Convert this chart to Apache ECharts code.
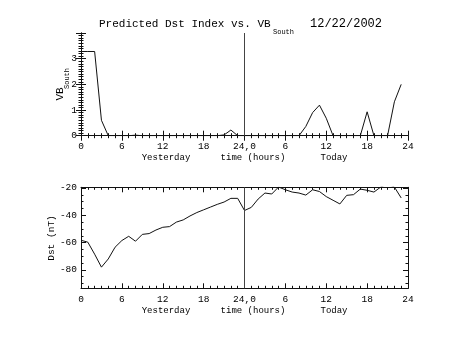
<!DOCTYPE html>
<html>
<head>
<meta charset="utf-8">
<script src="https://cdn.jsdelivr.net/npm/echarts@6/dist/echarts.min.js"></script>
<style>html,body{margin:0;padding:0;background:#fff}#c{width:453px;height:340px}</style>
</head>
<body>
<div id="c"></div>
<script>
// ---- data ----
const hours = [0,1,2,3,4,5,6,7,8,9,10,11,12,13,14,15,16,17,18,19,20,21,22,23,
               24,25,26,27,28,29,30,31,32,33,34,35,36,37,38,39,40,41,42,43,44,45,46,47];
const vbSouth = [3.28,3.28,3.28,0.6,0,0,0,0,0.02,0,0,0,0,0,0,0,0,0,0,0,0,0.03,0.22,0,
                 0,0,0,0,0,0,0,0,0,0.36,0.9,1.19,0.68,0,0,0,0,0,0.93,0,0,0,1.32,2.0];
const dst = [-58.3,-59.7,-68.5,-78,-72,-63.4,-58.5,-55.4,-59,-54,
             -53.4,-50.8,-48.8,-48.3,-45,-43.4,-40.5,-38,-36,-34,
             -32,-30.3,-27.6,-27.6,-36.5,-34.2,-28.1,-23.7,-24.4,-19.3,
             -21.3,-23,-23.7,-25.2,-21.3,-22.6,-26.3,-29,-31.7,-25.4,
             -24.9,-20.8,-21.7,-23,-19.3,-17,-19.3,-27.3];
const xTickLabels = ['0','6','12','18','24,0','6','12','18','24'];
const vbTickLabels = ['0','1','2','3',''];
const dstMajorTicks = [-80,-60,-40,-20];
const dstMinorTicks = [-90,-85,-80,-75,-70,-65,-60,-55,-50,-45,-40,-35,-30,-25,-20];

const FONT = '"Liberation Mono", monospace';
const INK = '#111';

function xAxisDef(grid, pos, showLabel) {
  return {
    type: 'value', gridIndex: grid, position: pos, min: 0, max: 48, interval: 6,
    axisLine: { show: true, lineStyle: { color: INK, width: 1 } },
    axisTick: { show: true, inside: true, length: 5, lineStyle: { color: INK } },
    minorTick: { show: true, splitNumber: 6, length: 2.5, lineStyle: { color: INK } },
    splitLine: { show: false },
    axisLabel: {
      show: showLabel, margin: 6, color: '#000', fontFamily: FONT, fontSize: 9.5,
      formatter: v => xTickLabels[Math.round(v / 6)]
    }
  };
}

const chart = echarts.init(document.getElementById('c'), null, { renderer: 'canvas' });
const option = {
  animation: false,
  backgroundColor: '#fff',
  grid: [
    { left: 81, right: 45, top: 33, bottom: 204.3, show: false },
    { left: 81, right: 45, top: 187.3, bottom: 51.7, show: false }
  ],
  xAxis: [
    xAxisDef(0, 'bottom', true),
    xAxisDef(0, 'top', false),
    xAxisDef(1, 'bottom', true),
    xAxisDef(1, 'top', false)
  ],
  yAxis: [
    {
      type: 'value', gridIndex: 0, position: 'left', min: 0, max: 4, interval: 1,
      axisLine: { show: true, lineStyle: { color: INK } },
      axisTick: { show: true, inside: true, length: 5, lineStyle: { color: INK } },
      minorTick: { show: true, splitNumber: 10, length: 2.5, lineStyle: { color: INK } },
      splitLine: { show: false },
      axisLabel: { margin: 4, color: '#000', fontFamily: FONT, fontSize: 9.5,
        formatter: v => vbTickLabels[Math.round(v)] }
    },
    {
      type: 'value', gridIndex: 0, position: 'right', min: 0, max: 4, interval: 1,
      axisLine: { show: true, lineStyle: { color: INK } },
      axisTick: { show: true, inside: true, length: 5, lineStyle: { color: INK } },
      minorTick: { show: true, splitNumber: 10, length: 2.5, lineStyle: { color: INK } },
      splitLine: { show: false },
      axisLabel: { show: false }
    },
    {
      type: 'value', gridIndex: 1, position: 'left', min: -93.5, max: -19.5,
      axisLine: { show: true, lineStyle: { color: INK } },
      axisTick: { show: true, inside: true, length: 5, customValues: dstMajorTicks, lineStyle: { color: INK } },
      splitLine: { show: false },
      axisLabel: { margin: 4, color: '#000', fontFamily: FONT, fontSize: 9.5, customValues: dstMajorTicks }
    },
    {
      type: 'value', gridIndex: 1, position: 'left', min: -93.5, max: -19.5,
      axisLine: { show: false },
      axisTick: { show: true, inside: true, length: 2.5, customValues: dstMinorTicks, lineStyle: { color: INK } },
      splitLine: { show: false },
      axisLabel: { show: false }
    },
    {
      type: 'value', gridIndex: 1, position: 'right', min: -93.5, max: -19.5,
      axisLine: { show: true, lineStyle: { color: INK } },
      axisTick: { show: true, inside: true, length: 5, customValues: dstMajorTicks, lineStyle: { color: INK } },
      splitLine: { show: false },
      axisLabel: { show: false }
    },
    {
      type: 'value', gridIndex: 1, position: 'right', min: -93.5, max: -19.5,
      axisLine: { show: false },
      axisTick: { show: true, inside: true, length: 2.5, customValues: dstMinorTicks, lineStyle: { color: INK } },
      splitLine: { show: false },
      axisLabel: { show: false }
    }
  ],
  series: [
    {
      type: 'line', xAxisIndex: 0, yAxisIndex: 0,
      data: hours.map((h, i) => [h, vbSouth[i]]),
      showSymbol: false, symbol: 'none', clip: true,
      lineStyle: { color: INK, width: 1 },
      markLine: { silent: true, symbol: 'none', label: { show: false },
        lineStyle: { color: '#444', type: 'solid', width: 1 }, data: [{ xAxis: 24 }] }
    },
    {
      type: 'line', xAxisIndex: 2, yAxisIndex: 2,
      data: hours.map((h, i) => [h, dst[i]]),
      showSymbol: false, symbol: 'none', clip: true,
      lineStyle: { color: INK, width: 1 },
      markLine: { silent: true, symbol: 'none', label: { show: false },
        lineStyle: { color: '#444', type: 'solid', width: 1 }, data: [{ xAxis: 24 }] }
    }
  ],
  graphic: [
    { type: 'text', x: 99, y: 24, style: { text: 'Predicted Dst Index vs. VB', font: '11px ' + FONT, fill: '#000', align: 'left', verticalAlign: 'middle' } },
    { type: 'text', x: 273, y: 32, style: { text: 'South', font: '7px ' + FONT, fill: '#000', align: 'left', verticalAlign: 'middle' } },
    { type: 'text', x: 346, y: 24, style: { text: '12/22/2002', font: '12px ' + FONT, fill: '#000', align: 'center', verticalAlign: 'middle' } },

    { type: 'text', x: 166, y: 157.5, style: { text: 'Yesterday', font: '9px ' + FONT, fill: '#000', align: 'center', verticalAlign: 'middle' } },
    { type: 'text', x: 253, y: 157.5, style: { text: 'time (hours)', font: '9px ' + FONT, fill: '#000', align: 'center', verticalAlign: 'middle' } },
    { type: 'text', x: 334, y: 157.5, style: { text: 'Today', font: '9px ' + FONT, fill: '#000', align: 'center', verticalAlign: 'middle' } },

    { type: 'text', x: 166, y: 311, style: { text: 'Yesterday', font: '9px ' + FONT, fill: '#000', align: 'center', verticalAlign: 'middle' } },
    { type: 'text', x: 253, y: 311, style: { text: 'time (hours)', font: '9px ' + FONT, fill: '#000', align: 'center', verticalAlign: 'middle' } },
    { type: 'text', x: 334, y: 311, style: { text: 'Today', font: '9px ' + FONT, fill: '#000', align: 'center', verticalAlign: 'middle' } },

    { type: 'text', x: 60.5, y: 94, rotation: Math.PI / 2, style: { text: 'VB', font: '11px ' + FONT, fill: '#000', align: 'center', verticalAlign: 'middle' } },
    { type: 'text', x: 67.5, y: 78.5, rotation: Math.PI / 2, style: { text: 'South', font: '7px ' + FONT, fill: '#000', align: 'center', verticalAlign: 'middle' } },

    { type: 'text', x: 51, y: 238, rotation: Math.PI / 2, style: { text: 'Dst (nT)', font: '9.5px ' + FONT, fill: '#000', align: 'center', verticalAlign: 'middle' } }
  ]
};
chart.setOption(option);
</script>
</body>
</html>
